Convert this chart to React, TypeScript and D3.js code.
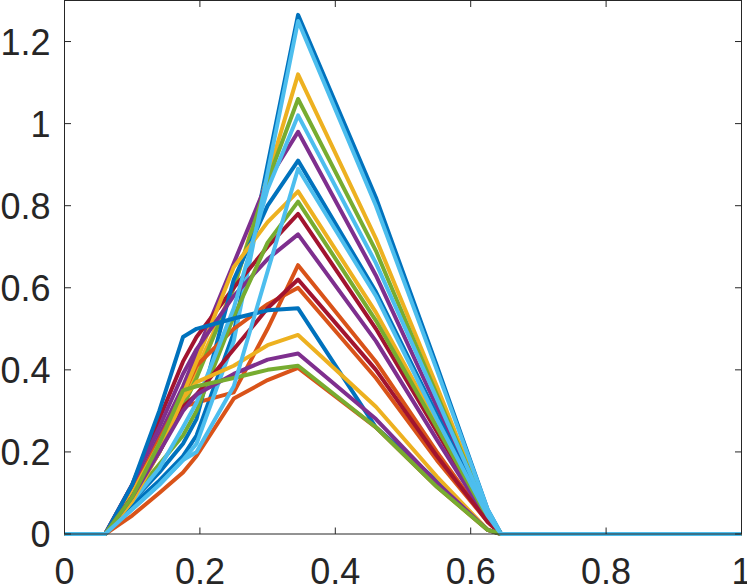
import * as d3 from "d3";

// x positions shared by every curve
const xs = [0, 0.06, 0.1, 0.14, 0.175, 0.195, 0.25, 0.3, 0.345, 0.46, 0.55, 0.625, 0.645, 1];

// one array per curve, in plot order (MATLAB colour order)
const s01 = [0, 0, 0.07, 0.13, 0.19, 0.24, 0.49, 0.9, 1.265, 0.82, 0.41, 0.06, 0, 0];
const s02 = [0, 0, 0.09, 0.2, 0.31, 0.32, 0.345, 0.5, 0.655, 0.42, 0.2, 0.03, 0, 0];
const s03 = [0, 0, 0.09, 0.2, 0.32, 0.4, 0.6, 0.87, 1.12, 0.72, 0.36, 0.05, 0, 0];
const s04 = [0, 0, 0.1, 0.24, 0.36, 0.44, 0.66, 0.86, 0.98, 0.63, 0.31, 0.05, 0, 0];
const s05 = [0, 0, 0.09, 0.2, 0.31, 0.38, 0.6, 0.86, 1.06, 0.69, 0.34, 0.05, 0, 0];
const s06 = [0, 0, 0.06, 0.12, 0.18, 0.22, 0.47, 0.88, 1.25, 0.8, 0.4, 0.06, 0, 0];
const s07 = [0, 0, 0.12, 0.28, 0.42, 0.48, 0.6, 0.7, 0.78, 0.5, 0.25, 0.04, 0, 0];
const s08 = [0, 0, 0.08, 0.15, 0.22, 0.28, 0.62, 0.8, 0.91, 0.59, 0.29, 0.045, 0, 0];
const s09 = [0, 0, 0.1, 0.23, 0.34, 0.41, 0.5, 0.56, 0.6, 0.38, 0.18, 0.03, 0, 0];
const s10 = [0, 0, 0.1, 0.22, 0.34, 0.42, 0.65, 0.76, 0.835, 0.54, 0.27, 0.04, 0, 0];
const s11 = [0, 0, 0.12, 0.26, 0.39, 0.45, 0.58, 0.67, 0.73, 0.47, 0.23, 0.035, 0, 0];
const s12 = [0, 0, 0.09, 0.17, 0.24, 0.3, 0.53, 0.71, 0.81, 0.52, 0.26, 0.04, 0, 0];
const s13 = [0, 0, 0.08, 0.16, 0.26, 0.32, 0.55, 0.84, 1.02, 0.66, 0.33, 0.05, 0, 0];
const s14 = [0, 0, 0.09, 0.2, 0.31, 0.34, 0.45, 0.55, 0.62, 0.4, 0.19, 0.03, 0, 0];
const s15 = [0, 0, 0.12, 0.3, 0.48, 0.5, 0.525, 0.545, 0.55, 0.26, 0.13, 0.01, 0, 0];
const s16 = [0, 0, 0.045, 0.1, 0.15, 0.19, 0.33, 0.375, 0.405, 0.26, 0.115, 0.01, 0, 0];
const s17 = [0, 0, 0.08, 0.2, 0.33, 0.37, 0.41, 0.46, 0.485, 0.31, 0.14, 0.01, 0, 0];
const s18 = [0, 0, 0.09, 0.2, 0.3, 0.34, 0.39, 0.425, 0.44, 0.28, 0.125, 0.01, 0, 0];
const s19 = [0, 0, 0.09, 0.22, 0.35, 0.36, 0.38, 0.4, 0.41, 0.26, 0.115, 0.01, 0, 0];
const s20 = [0, 0, 0.06, 0.12, 0.18, 0.2, 0.36, 0.64, 0.89, 0.58, 0.28, 0.045, 0, 0];

const series = [s01, s02, s03, s04, s05, s06, s07, s08, s09, s10, s11, s12, s13, s14, s15, s16, s17, s18, s19, s20];

const colors = ["#0072BD", "#D95319", "#EDB120", "#7E2F8E", "#77AC30", "#4DBEEE", "#A2142F"];

const xTicks = [0, 0.2, 0.4, 0.6, 0.8, 1];
const yTicks = [0, 0.2, 0.4, 0.6, 0.8, 1, 1.2];

const W = 747;
const H = 585;
const left = 64.5;
const right = 741.5;
const top = 0.5;
const bottom = 534;
const axisColor = "#262626";
const fontSize = 36;

export default function App() {
  const x = d3.scaleLinear().domain([0, 1]).range([left, right]);
  const y = d3.scaleLinear().domain([0, 1.3]).range([bottom, top]);

  const line = d3
    .line<number>()
    .x((_, i) => x(xs[i]))
    .y((d) => y(d));

  return (
    <svg
      width={W}
      height={H}
      style={{ position: "absolute", left: 0, top: 0, background: "#fff" }}
      fontFamily="'Liberation Sans', Arial, Helvetica, sans-serif"
    >
      {/* curves */}
      {series.map((s, i) => (
        <path
          key={i}
          d={line(s) || ""}
          fill="none"
          stroke={colors[i % colors.length]}
          strokeWidth={4}
          strokeLinejoin="round"
        />
      ))}

      {/* box */}
      <rect
        x={left}
        y={top}
        width={right - left}
        height={bottom - top}
        fill="none"
        stroke={axisColor}
        strokeWidth={1}
      />

      {/* x ticks, bottom and top */}
      {xTicks.map((t) => (
        <g key={"x" + t}>
          <line x1={x(t)} x2={x(t)} y1={bottom} y2={bottom - 6.5} stroke={axisColor} />
          <line x1={x(t)} x2={x(t)} y1={top} y2={top + 6.5} stroke={axisColor} />
          <text
            x={x(t)}
            y={bottom + 50}
            textAnchor="middle"
            fontSize={fontSize}
            fill={axisColor}
          >
            {d3.format("~g")(t)}
          </text>
        </g>
      ))}

      {/* y ticks, left and right */}
      {yTicks.map((t) => (
        <g key={"y" + t}>
          <line x1={left} x2={left + 6.5} y1={y(t)} y2={y(t)} stroke={axisColor} />
          <line x1={right} x2={right - 6.5} y1={y(t)} y2={y(t)} stroke={axisColor} />
          <text
            x={left - 14}
            y={y(t) + 13}
            textAnchor="end"
            fontSize={fontSize}
            fill={axisColor}
          >
            {d3.format("~g")(t)}
          </text>
        </g>
      ))}
    </svg>
  );
}
